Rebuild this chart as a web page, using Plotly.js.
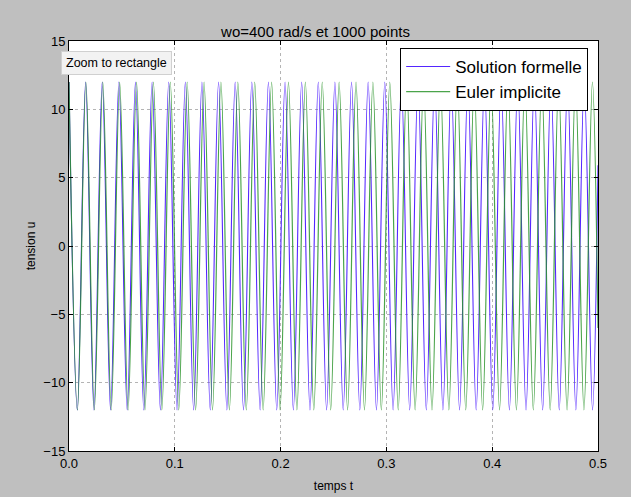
<!DOCTYPE html>
<html>
<head>
<meta charset="utf-8">
<script src="https://cdn.plot.ly/plotly-3.0.1.min.js"></script>
<style>
  html, body { margin: 0; padding: 0; background: #bfbfbf; }
  #chart { width: 631px; height: 497px; }
</style>
</head>
<body>
<div id="chart"></div>
<script>
// Extrema (peaks / troughs), plus the end point at t = 0.5
const tFormelle = [0, 0.00785, 0.01571, 0.02356, 0.03142, 0.03927, 0.04712, 0.05498, 0.06283, 0.07069,
  0.07854, 0.08639, 0.09425, 0.10210, 0.10996, 0.11781, 0.12566, 0.13352, 0.14137, 0.14923,
  0.15708, 0.16493, 0.17279, 0.18064, 0.18850, 0.19635, 0.20420, 0.21206, 0.21991, 0.22777,
  0.23562, 0.24347, 0.25133, 0.25918, 0.26704, 0.27489, 0.28274, 0.29060, 0.29845, 0.30631,
  0.31416, 0.32201, 0.32987, 0.33772, 0.34558, 0.35343, 0.36128, 0.36914, 0.37699, 0.38485,
  0.39270, 0.40055, 0.40841, 0.41626, 0.42412, 0.43197, 0.43982, 0.44768, 0.45553, 0.46338,
  0.47124, 0.47909, 0.48695, 0.49480, 0.5];
const uFormelle = [12, -12, 12, -12, 12, -12, 12, -12, 12, -12,
  12, -12, 12, -12, 12, -12, 12, -12, 12, -12,
  12, -12, 12, -12, 12, -12, 12, -12, 12, -12,
  12, -12, 12, -12, 12, -12, 12, -12, 12, -12,
  12, -12, 12, -12, 12, -12, 12, -12, 12, -12,
  12, -12, 12, -12, 12, -12, 12, -12, 12, -12,
  12, -12, 12, -12, 5.9];

const tEuler = [0, 0.00798, 0.01596, 0.02394, 0.03192, 0.03990, 0.04787, 0.05585, 0.06383, 0.07181,
  0.07979, 0.08777, 0.09575, 0.10373, 0.11171, 0.11969, 0.12766, 0.13564, 0.14362, 0.15160,
  0.15958, 0.16756, 0.17554, 0.18352, 0.19150, 0.19948, 0.20745, 0.21543, 0.22341, 0.23139,
  0.23937, 0.24735, 0.25533, 0.26331, 0.27129, 0.27927, 0.28724, 0.29522, 0.30320, 0.31118,
  0.31916, 0.32714, 0.33512, 0.34310, 0.35108, 0.35906, 0.36703, 0.37501, 0.38299, 0.39097,
  0.39895, 0.40693, 0.41491, 0.42289, 0.43087, 0.43885, 0.44682, 0.45480, 0.46278, 0.47076,
  0.47874, 0.48672, 0.49470, 0.5];
const uEuler = [12, -12, 12, -12, 12, -12, 12, -12, 12, -12,
  12, -12, 12, -12, 12, -12, 12, -12, 12, -12,
  12, -12, 12, -12, 12, -12, 12, -12, 12, -12,
  12, -12, 12, -12, 12, -12, 12, -12, 12, -12,
  12, -12, 12, -12, 12, -12, 12, -12, 12, -12,
  12, -12, 12, -12, 12, -12, 12, -12, 12, -12,
  12, -12, 12, -6.0];

const xTicks = [0, 0.1, 0.2, 0.3, 0.4, 0.5];
const xTickLabels = ["0.0", "0.1", "0.2", "0.3", "0.4", "0.5"];
const yTicks = [-15, -10, -5, 0, 5, 10, 15];
const yTickLabels = ["\u221215", "\u221210", "\u22125", "0", "5", "10", "15"];

const FONT = "Liberation Sans, Arial, Helvetica, sans-serif";

const traces = [
  { x: tFormelle, y: uFormelle, type: "scatter", mode: "lines", name: "Solution formelle",
    line: { color: "#5426ff", width: 1.1, shape: "spline", smoothing: 1 } },
  { x: tEuler, y: uEuler, type: "scatter", mode: "lines", name: "Euler implicite",
    line: { color: "#2a942a", width: 1.2, shape: "spline", smoothing: 1 }, opacity: 0.85 }
];

const axisCommon = {
  showline: true, linecolor: "#000", linewidth: 1, mirror: "ticks",
  ticks: "inside", ticklen: 4, tickcolor: "#000", tickwidth: 1,
  showgrid: true, gridcolor: "#b4b4b4", griddash: "dot", gridwidth: 1,
  zeroline: false, tickfont: { family: FONT, size: 13, color: "#000" }
};

const layout = {
  width: 631, height: 497,
  paper_bgcolor: "#bfbfbf", plot_bgcolor: "#ffffff",
  margin: { l: 69, r: 33, t: 41, b: 46 },
  showlegend: true,
  title: { text: "wo=400 rad/s et 1000 points", font: { family: FONT, size: 15, color: "#000" },
           x: 0.5, xanchor: "center", y: 1, yref: "paper", yanchor: "bottom", pad: { b: 4 } },
  xaxis: Object.assign({}, axisCommon, {
    range: [0, 0.5], tickvals: xTicks, ticktext: xTickLabels,
    title: { text: "temps t", font: { family: FONT, size: 12, color: "#000" }, standoff: 12 }
  }),
  yaxis: Object.assign({}, axisCommon, {
    range: [-15, 15], tickvals: yTicks, ticktext: yTickLabels,
    title: { text: "tension u", font: { family: FONT, size: 12, color: "#000" }, standoff: 5 }
  }),
  legend: {
    x: 0.626, y: 0.983, xanchor: "left", yanchor: "top",
    bgcolor: "#ffffff", bordercolor: "#000", borderwidth: 1,
    font: { family: FONT, size: 17, color: "#000" }, itemwidth: 44, tracegroupgap: 0
  },
  annotations: [{
    text: "Zoom to rectangle", xref: "paper", yref: "paper",
    x: -0.016, y: 0.947, xanchor: "left", yanchor: "middle", showarrow: false,
    font: { family: FONT, size: 12.5, color: "#000" },
    bgcolor: "#f2f2f2", bordercolor: "#d0d0d0", borderwidth: 1, borderpad: 4
  }]
};

Plotly.newPlot("chart", traces, layout, { displayModeBar: false, staticPlot: true });
</script>
</body>
</html>
